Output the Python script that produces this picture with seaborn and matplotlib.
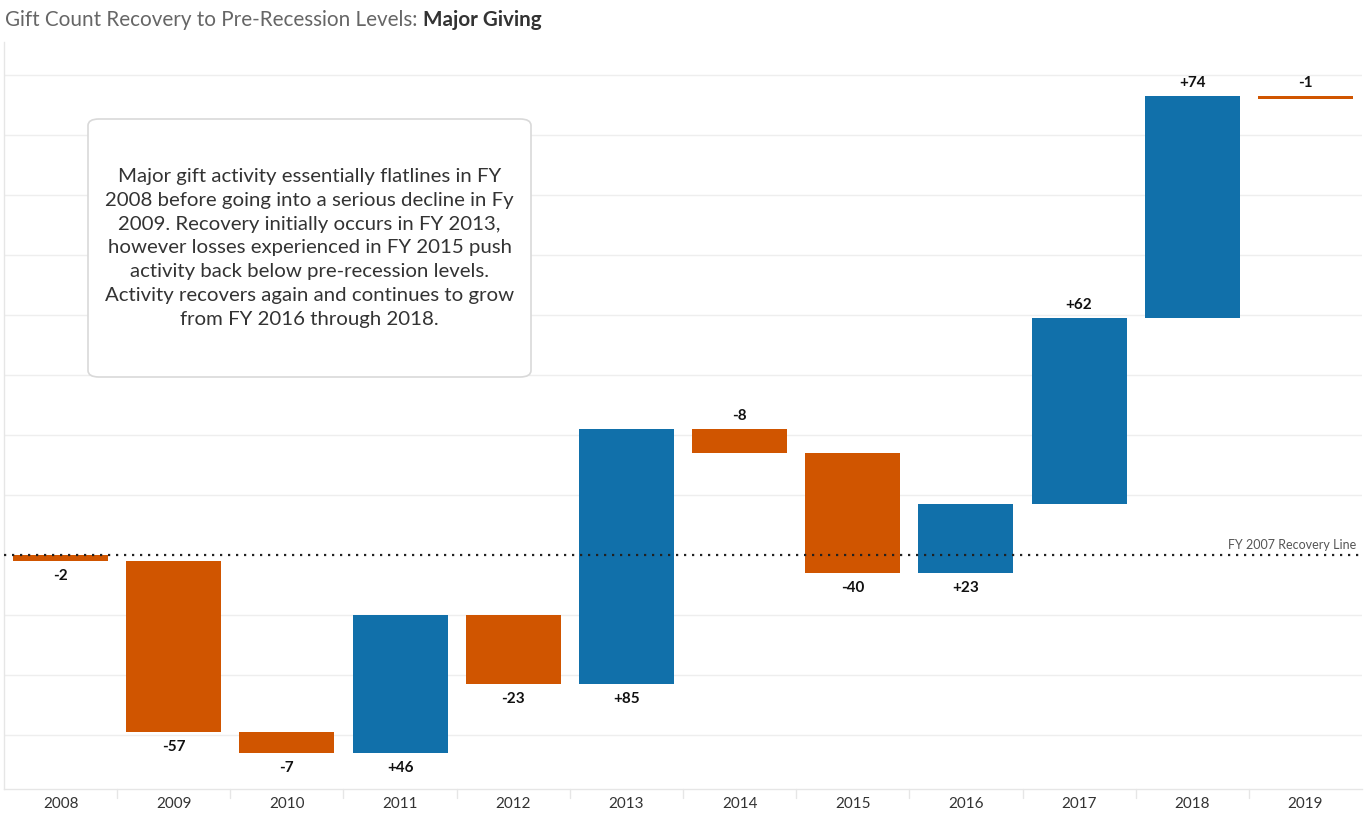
import numpy as np
import pandas as pd
import matplotlib
matplotlib.use("Agg")
import matplotlib.pyplot as plt
import seaborn as sns
from matplotlib.patches import FancyBboxPatch

years = ["2008", "2009", "2010", "2011", "2012", "2013", "2014", "2015", "2016", "2017", "2018", "2019"]
changes = [-2, -57, -7, 46, -23, 85, -8, -40, 23, 62, 74, -1]

title_main = "Gift Count Recovery to Pre-Recession Levels: "
title_bold = "Major Giving"
note = ("Major gift activity essentially flatlines in FY\n"
        "2008 before going into a serious decline in Fy\n"
        "2009. Recovery initially occurs in FY 2013,\n"
        "however losses experienced in FY 2015 push\n"
        "activity back below pre-recession levels.\n"
        "Activity recovers again and continues to grow\n"
        "from FY 2016 through 2018.")
line_label = "FY 2007 Recovery Line"

BLUE = "#1170AA"
ORANGE = "#D05500"

ends = np.cumsum(changes)
starts = ends - np.array(changes)
df = pd.DataFrame({"year": years, "change": changes, "start": starts, "end": ends})

sns.set_theme(style="white")
plt.rcParams["font.family"] = ["Lato", "DejaVu Sans"]

W, H = 1367, 818
fig = plt.figure(figsize=(W / 100, H / 100), dpi=100)
ax = fig.add_axes([4 / W, (H - 789) / H, (1362 - 4) / W, (789 - 42) / H])

sns.barplot(data=df, x="year", y="change", bottom=df["start"].values, order=years,
            errorbar=None, width=0.84, ax=ax, color=BLUE, linewidth=0)
for p, c in zip(ax.patches, changes):
    p.set_facecolor(BLUE if c > 0 else ORANGE)
    p.set_edgecolor("none")

ax.set_ylim(-78, 171)
ax.set_xlim(-0.5, len(years) - 0.5)

# gridlines
for g in range(-60, 170, 20):
    if g == 0:
        continue
    ax.axhline(g, color="#eeeeee", lw=1, zorder=0)
ax.axhline(0, color="#222222", lw=1.6, ls=(0, (1, 2.6)), zorder=3)
ax.text(len(years) - 0.55, 1.3, line_label, ha="right", va="bottom",
        fontsize=9, color="#555555")

# value labels
for i, (s, e, c) in enumerate(zip(starts, ends, changes)):
    lo, hi = min(s, e), max(s, e)
    txt = f"+{c}" if c > 0 else f"{c}"
    if lo < 0:
        ax.annotate(txt, (i, lo), xytext=(0, -6), textcoords="offset points",
                    ha="center", va="top", fontsize=11, fontweight="bold", color="#111111")
    else:
        ax.annotate(txt, (i, hi), xytext=(0, 4), textcoords="offset points",
                    ha="center", va="bottom", fontsize=11, fontweight="bold", color="#111111")

ax.set_xlabel("")
ax.set_ylabel("")
ax.set_yticks([])
ax.tick_params(axis="x", length=0, labelsize=11, labelcolor="#333333", pad=6)
for side in ["top", "right"]:
    ax.spines[side].set_visible(False)
for side in ["left", "bottom"]:
    ax.spines[side].set_color("#e6e6e6")
    ax.spines[side].set_linewidth(1)
# category separators
for b in np.arange(0.5, len(years) - 0.5, 1):
    ax.plot([b, b], [0, -0.012], transform=ax.get_xaxis_transform(), color="#e6e6e6",
            lw=1, clip_on=False)

# annotation box
box = FancyBboxPatch((88 / W, (H - 377) / H), (531 - 88) / W, (377 - 119) / H,
                     boxstyle="round,pad=0,rounding_size=0.008", transform=fig.transFigure,
                     facecolor="white", edgecolor="#d9d9d9", lw=1.2, zorder=5)
fig.patches.append(box)
fig.text((88 + 531) / 2 / W, (H - 248) / H, note, ha="center", va="center",
         fontsize=14.7, color="#333333", linespacing=1.49, zorder=6)

# title
t1 = fig.text(5 / W, (H - 20) / H, title_main, ha="left", va="center",
              fontsize=14.9, color="#666666", fontweight="normal")
fig.canvas.draw()
bb = t1.get_window_extent(fig.canvas.get_renderer())
fig.text(bb.x1 / W, (H - 20) / H, title_bold, ha="left", va="center",
         fontsize=14.9, color="#333333", fontweight="bold")

fig.savefig("out.png", dpi=100)
